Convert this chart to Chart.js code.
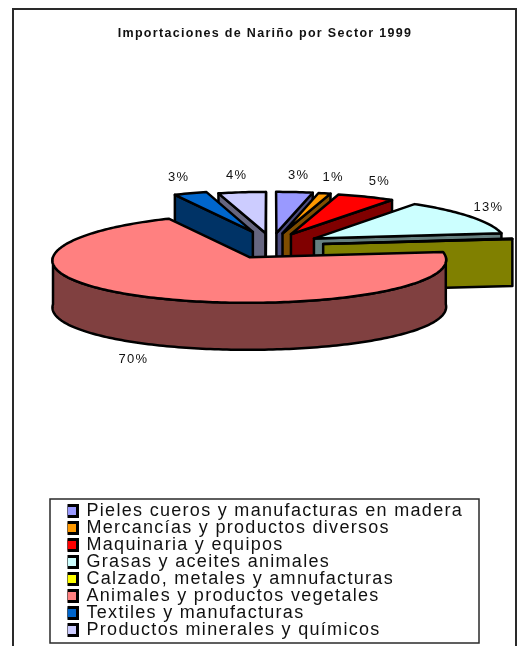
<!DOCTYPE html>
<html><head><meta charset="utf-8">
<style>html,body{margin:0;padding:0;background:#fff}#w{position:relative;width:519px;height:646px}canvas{display:block}</style>
<script src="https://cdn.jsdelivr.net/npm/chart.js@4"></script></head>
<body><div id="w"><canvas id="c" width="519" height="646"></canvas></div>
<script>
const chartTitle = 'Importaciones de Nariño por Sector 1999';
const categories = ['Pieles cueros y manufacturas en madera','Mercancías y productos diversos','Maquinaria y equipos','Grasas y aceites animales','Calzado, metales y amnufacturas','Animales y productos vegetales','Textiles y manufacturas','Productos minerales y químicos'];
const shares = [3.3,1.1,5.2,13.4,0.1,69.6,3.0,4.3];
const colours = ['#9999FF','#FF9900','#FF0000','#CCFFFF','#FFFF00','#FF8080','#0066CC','#CCCCFF'];
const explode = [46,46,46,50,52,46,54,46];

const VIEW = {cx:271.7, cy:245.8, tilt:0.225, perspX:2900, perspY:6000, depth:47, explodeY:1.24};
function project(x,y,z){const sx=VIEW.perspX/(VIEW.perspX-y),sy=VIEW.perspY/(VIEW.perspY-y);return [VIEW.cx+x*sx, VIEW.cy+y*VIEW.tilt*sy+z];}
function shade(hex){const n=parseInt(hex.slice(1),16);const f=v=>Math.round(v/2);return `rgb(${f(n>>16&255)},${f(n>>8&255)},${f(n&255)})`;}
function poly(ctx,pts,fill){ctx.beginPath();pts.forEach((p,i)=>i?ctx.lineTo(p[0],p[1]):ctx.moveTo(p[0],p[1]));ctx.closePath();ctx.fillStyle=fill;ctx.fill();ctx.stroke();}
function arcGeom(el){const {startAngle:s,endAngle:e,outerRadius:r}=el.getProps(['startAngle','endAngle','outerRadius'],true);const off=el.options.offset,m=(s+e)/2;return {s,e,r,m,ox:Math.cos(m)*off,oy:Math.sin(m)*off*VIEW.explodeY};}
function rim(g,a,b,z){const n=Math.max(2,Math.ceil((b-a)/0.02)),o=[];for(let i=0;i<=n;i++){const t=a+(b-a)*i/n;o.push(project(g.ox+Math.cos(t)*g.r,g.oy+Math.sin(t)*g.r,z));}return o;}

const pie3d = {
  id:'pie3d',
  beforeDraw(chart){
    const ctx=chart.ctx;ctx.letterSpacing='1.3px';
    ctx.save();ctx.strokeStyle='#2a2a2a';ctx.lineWidth=2;
    ctx.beginPath();ctx.moveTo(13,646);ctx.lineTo(13,9);ctx.lineTo(516,9);ctx.lineTo(516,646);ctx.stroke();
    ctx.lineWidth=1.5;ctx.strokeRect(50,499,429,144);ctx.restore();
  },
  afterLayout(chart){const l=chart.legend;l.left=67.5;l.right=479;l.top=503;l.bottom=720;l.width=411.5;l.height=217;},
  beforeDatasetDraw(chart,args){
    const ctx=chart.ctx,arcs=args.meta.data,h=VIEW.depth;
    const order=arcs.map((el,i)=>({el,i,g:arcGeom(el)})).sort((a,b)=>Math.sin(a.g.m)-Math.sin(b.g.m));
    ctx.save();ctx.lineWidth=2.5;ctx.strokeStyle='#000';ctx.lineJoin='round';
    for(const {el,i,g} of order){
      const col=colours[i],dark=shade(col);
      const edge=a=>[project(g.ox+Math.cos(a)*g.r,g.oy+Math.sin(a)*g.r,0),project(g.ox+Math.cos(a)*g.r,g.oy+Math.sin(a)*g.r,h)];
      const A=project(g.ox,g.oy,0),Ab=project(g.ox,g.oy,h);
      if(Math.cos(g.s)<0){const [t,b]=edge(g.s);poly(ctx,[A,t,b,Ab],dark);}
      if(Math.cos(g.e)>0){const [t,b]=edge(g.e);poly(ctx,[A,t,b,Ab],dark);}
      const a0=Math.max(g.s,0),a1=Math.min(g.e,Math.PI);
      if(a1>a0){poly(ctx,rim(g,a0,a1,0).concat(rim(g,a0,a1,h).reverse()),dark);}
      poly(ctx,[A].concat(rim(g,g.s,g.e,0)),col);
    }
    ctx.fillStyle='#111';ctx.font='13px "Liberation Sans"';ctx.textAlign='center';ctx.textBaseline='middle';
    for(const {i,g} of order){
      const v=Math.round(shares[i]);if(!v)continue;
      const front=Math.sin(g.m)>0,fx=front?1.12:1.28-0.17*Math.abs(Math.cos(g.m)),fy=front?1.37:1.42;
      const p=project(g.ox+Math.cos(g.m)*g.r*fx,g.oy+Math.sin(g.m)*g.r*fy,front?h:0);
      ctx.fillText(v+'%',p[0],p[1]);
    }
    ctx.restore();
    return false;
  }
};
new Chart(document.getElementById('c'),{
  type:'pie',
  data:{labels:categories,datasets:[{data:shares,backgroundColor:colours,borderColor:'#000',borderWidth:3,offset:explode,radius:193}]},
  options:{
    responsive:false,animation:false,devicePixelRatio:1,
    layout:{padding:{left:11}},
    plugins:{
      title:{display:true,text:chartTitle,color:'#111',font:{family:'"Liberation Sans"',size:12.5,weight:'bold'},padding:{top:26,bottom:0}},
      legend:{display:true,position:'chartArea',align:'start',labels:{color:'#111',boxWidth:11,boxHeight:11,padding:-1,font:{family:'"Liberation Sans"',size:18,lineHeight:1}}},
      tooltip:{enabled:false}
    }
  },
  plugins:[pie3d]
});
</script></body></html>
